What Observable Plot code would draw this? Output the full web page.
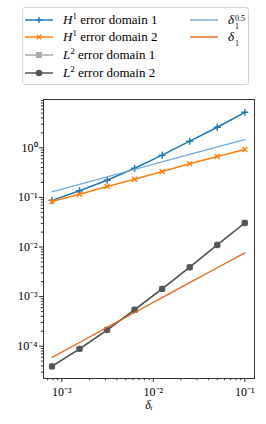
<!DOCTYPE html>
<html>
<head>
<meta charset="utf-8">
<script src="https://cdn.jsdelivr.net/npm/d3@7"></script>
<script src="https://cdn.jsdelivr.net/npm/@observablehq/plot@0.6"></script>
<style>
  html, body { margin: 0; padding: 0; background: #fff; }
  #wrap { position: relative; width: 266px; height: 424px; overflow: hidden; font-family: "Liberation Serif", serif; color: #000; }
  #legend { position: absolute; left: 22px; top: 7px; width: 227px; height: 78px; border: 1px solid #d4d4d4; border-radius: 3px; box-sizing: border-box; }
  .row { position: absolute; height: 16px; font-size: 13px; line-height: 16px; white-space: nowrap; }
  .row svg { position: absolute; top: 0; }
  .row .lbl { position: absolute; top: 0; }
  sup.s { font-size: 9px; vertical-align: 0; position: relative; top: -5px; }
  .stack { display: inline-block; font-size: 8px; line-height: 8px; vertical-align: -5px; margin-left: 1px; }
  .stack span { display: block; height: 8px; }
  #chart { position: absolute; left: 0; top: 88px; }
</style>
</head>
<body>
<div id="wrap">
  <div id="legend"></div>
  <div id="chart"></div>
</div>
<script>
// ---- data ----
const deltas = [0.1, 0.05, 0.025, 0.0125, 0.00625, 0.003125, 0.0015625, 0.00078125];
const h1Domain1 = [5.2, 2.6, 1.36, 0.71, 0.388, 0.222, 0.136, 0.087];
const h1Domain2 = [0.925, 0.668, 0.475, 0.333, 0.233, 0.166, 0.116, 0.083];
const l2Domain1 = [0.0308, 0.0111, 0.0039, 0.00144, 0.00054, 0.000214, 0.0000887, 0.0000395];
const l2Domain2 = [0.0305, 0.011, 0.00392, 0.00143, 0.000545, 0.000212, 0.0000885, 0.0000392];
const refHalf = [1.47, 1.04, 0.735, 0.52, 0.368, 0.26, 0.184, 0.13];
const refOne = [0.00764, 0.00382, 0.00191, 0.000955, 0.000478, 0.000239, 0.000119, 0.0000597];
const xTicks = [1e-3, 1e-2, 1e-1];
const xTickLabels = ["10⁻³", "10⁻²", "10⁻¹"];
const yTicks = [1e-4, 1e-3, 1e-2, 1e-1, 1e0];
const yTickLabels = ["10⁻⁴", "10⁻³", "10⁻²", "10⁻¹", "10⁰"];
const xLabel = "δᵢ";

const colors = {
  h1d1: "#1f77b4", h1d2: "#ff7f0e", l2d1: "#aaaaaa", l2d2: "#555555",
  half: "#72aadb", one: "#e0661c"
};

const series = [
  {key: "h1d1", values: h1Domain1, symbol: "plus", fill: false},
  {key: "h1d2", values: h1Domain2, symbol: "times", fill: false},
  {key: "l2d1", values: l2Domain1, symbol: "square", fill: true},
  {key: "l2d2", values: l2Domain2, symbol: "circle", fill: true}
];
const refs = [
  {key: "half", values: refHalf},
  {key: "one", values: refOne}
];

// minor ticks
function minorTicks(lo, hi) {
  const out = [];
  for (let k = Math.floor(Math.log10(lo)); k <= Math.ceil(Math.log10(hi)); k++) {
    for (let m = 2; m <= 9; m++) {
      const v = m * Math.pow(10, k);
      if (v >= lo && v <= hi) out.push(v);
    }
  }
  return out;
}
const xDomain = [Math.pow(10, -3.2), Math.pow(10, -0.894)];
const yDomain = [Math.pow(10, -4.651), Math.pow(10, 0.974)];

const marks = [];
for (const s of series) {
  const rows = deltas.map((d, i) => ({x: d, y: s.values[i]}));
  marks.push(Plot.line(rows, {x: "x", y: "y", stroke: colors[s.key], strokeWidth: 1.5}));
  if (s.fill) {
    marks.push(Plot.dot(rows, {x: "x", y: "y", symbol: s.symbol, fill: colors[s.key], stroke: "none", r: s.symbol === "square" ? 3.4 : 3.2}));
  } else {
    marks.push(Plot.dot(rows, {x: "x", y: "y", symbol: s.symbol, stroke: colors[s.key], strokeWidth: 1.4, r: 2.4}));
  }
}
for (const r of refs) {
  const rows = deltas.map((d, i) => ({x: d, y: r.values[i]}));
  marks.push(Plot.line(rows, {x: "x", y: "y", stroke: colors[r.key], strokeWidth: 1.3}));
}

const chart = Plot.plot({
  width: 266, height: 336,
  marginTop: 11, marginBottom: 46, marginLeft: 43, marginRight: 12,
  x: {type: "log", domain: xDomain},
  y: {type: "log", domain: yDomain},
  style: {fontFamily: "'Liberation Serif', serif", fontSize: "12px", color: "#000", background: "transparent", overflow: "visible"},
  marks: [
    Plot.axisX({ticks: minorTicks(...xDomain), tickSize: 2.2, tickFormat: () => "", label: null, stroke: "#333"}),
    Plot.axisX({ticks: xTicks, tickSize: 4, tickPadding: 5, tickFormat: (d) => xTickLabels[xTicks.indexOf(d)], label: null, stroke: "#333"}),
    Plot.axisY({ticks: minorTicks(...yDomain), tickSize: 2.2, tickFormat: () => "", label: null, stroke: "#333"}),
    Plot.axisY({ticks: yTicks, tickSize: 4, tickPadding: 2, tickFormat: (d) => yTickLabels[yTicks.indexOf(d)], label: null, stroke: "#333"}),
    ...marks,
    Plot.frame({stroke: "#333", strokeWidth: 1}),
    Plot.text([xLabel], {frameAnchor: "bottom", dy: 30, fontStyle: "italic", fontSize: 12})
  ]
});
document.getElementById("chart").appendChild(chart);

// ---- legend ----
const legend = document.getElementById("legend");
const legendItems = [
  {key: "h1d1", html: "<i>H</i><sup class='s'>1</sup> error domain 1", symbol: "plus", col: 0, row: 0},
  {key: "h1d2", html: "<i>H</i><sup class='s'>1</sup> error domain 2", symbol: "times", col: 0, row: 1},
  {key: "l2d1", html: "<i>L</i><sup class='s'>2</sup> error domain 1", symbol: "square", col: 0, row: 2},
  {key: "l2d2", html: "<i>L</i><sup class='s'>2</sup> error domain 2", symbol: "circle", col: 0, row: 3},
  {key: "half", html: "<i>δ</i><span class='stack'><span>0.5</span><span>1</span></span>", symbol: null, col: 1, row: 0},
  {key: "one", html: "<i>δ</i><span class='stack'><span>&nbsp;</span><span>1</span></span>", symbol: null, col: 1, row: 1}
];
const rowY = [12.5, 30.2, 48.2, 65.8];
for (const it of legendItems) {
  const div = document.createElement("div");
  div.className = "row";
  const left = it.col === 0 ? 2 : 167;
  div.style.left = left + "px";
  div.style.top = (rowY[it.row] - 9) + "px";
  const c = colors[it.key];
  let marker = "";
  if (it.symbol === "plus") marker = `<path d="M14,5V11M11,8H17" stroke="${c}" stroke-width="1.4" fill="none"/>`;
  if (it.symbol === "times") marker = `<path d="M11.8,5.8L16.2,10.2M11.8,10.2L16.2,5.8" stroke="${c}" stroke-width="1.4" fill="none"/>`;
  if (it.symbol === "square") marker = `<rect x="11" y="5" width="6" height="6" fill="${c}"/>`;
  if (it.symbol === "circle") marker = `<circle cx="14" cy="8" r="3.2" fill="${c}"/>`;
  const lw = it.symbol ? 1.5 : 1.4;
  div.innerHTML = `<svg width="28" height="16" style="left:0"><line x1="0" y1="8" x2="28" y2="8" stroke="${c}" stroke-width="${lw}"/>${marker}</svg><span class="lbl" style="left:38px">${it.html}</span>`;
  legend.appendChild(div);
}
</script>
</body>
</html>
